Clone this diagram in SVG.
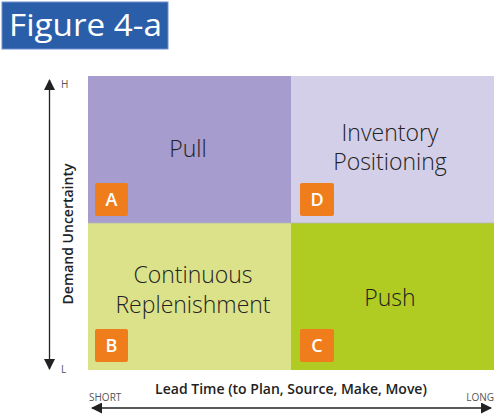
<svg xmlns="http://www.w3.org/2000/svg" width="500" height="419" viewBox="0 0 500 419">
<style>
.q{font-family:"Open Sans","Liberation Sans",sans-serif;font-size:23px;font-weight:300;fill:#222;text-anchor:middle}
.b{fill:#ef7d1b}
.bl{font-family:"Open Sans","Liberation Sans",sans-serif;font-size:18px;font-weight:600;fill:#fff;text-anchor:middle}
.ax{font-family:"Open Sans","Liberation Sans",sans-serif;font-size:10px;fill:#555}
.at{font-family:"Open Sans","Liberation Sans",sans-serif;font-size:14px;font-weight:600;fill:#222}
.ln{stroke:#222;stroke-width:1.3;fill:none}
</style>
<defs>
<marker id="ah2" markerWidth="11" markerHeight="11" refX="10" refY="5.5" orient="auto-start-reverse" markerUnits="userSpaceOnUse"><path d="M0,0 L11,5.5 L0,11 Z" fill="#222"/></marker>
</defs>
<rect width="500" height="419" fill="#fff"/>
<g id="title">
<rect x="2" y="2" width="166" height="47" fill="#2b5ea9" stroke="#6f8fcf" stroke-width="1"/>
<text x="9" y="36" font-family="Open Sans, Liberation Sans, sans-serif" font-size="31" fill="#fff" textLength="153" lengthAdjust="spacingAndGlyphs">Figure 4-a</text>
</g>
<g id="quadA">
<rect x="88" y="76" width="203" height="147" fill="#a69ccd"/>
<text class="q" x="188" y="157">Pull</text>
<rect class="b" x="95" y="183" width="33" height="33" rx="2"/>
<text class="bl" x="111.5" y="206">A</text>
</g>
<g id="quadD">
<rect x="291" y="76" width="203" height="147" fill="#d3cfe8"/>
<text class="q" x="390" y="141">Inventory</text>
<text class="q" x="390" y="170">Positioning</text>
<rect class="b" x="300" y="183" width="34" height="33" rx="2"/>
<text class="bl" x="317" y="206">D</text>
</g>
<g id="quadB">
<rect x="88" y="223" width="203" height="147" fill="#dce28a"/>
<text class="q" x="193" y="283">Continuous</text>
<text class="q" x="193" y="313">Replenishment</text>
<rect class="b" x="95" y="329" width="33" height="33" rx="2"/>
<text class="bl" x="111.5" y="352">B</text>
</g>
<g id="quadC">
<rect x="291" y="223" width="203" height="147" fill="#b0cb21"/>
<text class="q" x="390" y="306">Push</text>
<rect class="b" x="300" y="329" width="34" height="33" rx="2"/>
<text class="bl" x="317" y="352">C</text>
</g>
<line x1="88" y1="223" x2="494" y2="223" stroke="#b8b8b0" stroke-width="0.8"/>
<g id="connectors">
<line class="ln" x1="49.5" y1="80" x2="49.5" y2="369" marker-start="url(#ah2)" marker-end="url(#ah2)"/>
<line class="ln" x1="92" y1="408" x2="491" y2="408" marker-start="url(#ah2)" marker-end="url(#ah2)"/>
</g>
<g id="axes">
<text class="ax" x="61" y="88" font-size="11">H</text>
<text class="ax" x="61" y="373" font-size="11">L</text>
<text class="at" transform="translate(73,234) rotate(-90)" text-anchor="middle">Demand Uncertainty</text>
<text class="at" x="291" y="394" text-anchor="middle">Lead Time (to Plan, Source, Make, Move)</text>
<text class="ax" x="89" y="401">SHORT</text>
<text class="ax" x="494" y="401" text-anchor="end">LONG</text>
</g>
</svg>
